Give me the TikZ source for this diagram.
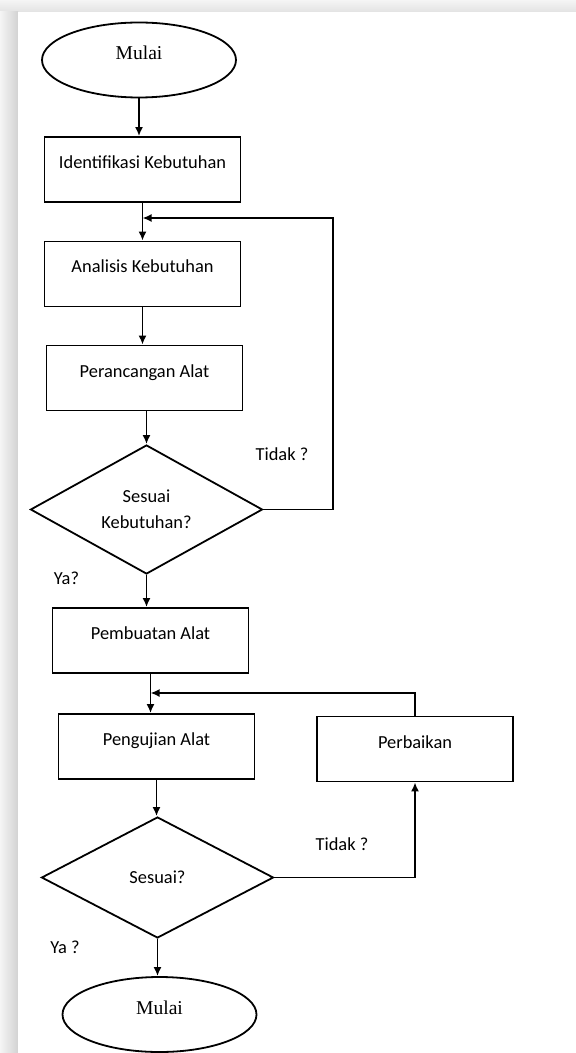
\documentclass[tikz,border=0pt]{standalone}
\usepackage{fontspec}
\setmainfont{Carlito}
\newfontfamily\serifmulai{Liberation Serif}
\usetikzlibrary{shapes.geometric,arrows.meta}
\begin{document}
\begin{tikzpicture}[x=0.5pt, y=-0.5pt, line width=0.9pt,
  font=\fontsize{9.2}{13}\selectfont,
  >={Latex[length=4.5pt,width=4pt]},
  kotak/.style={draw, rectangle, minimum width=98pt, minimum height=32.5pt, text height=6pt, text depth=7pt},
  terminal/.style={draw, ellipse, minimum width=97pt, minimum height=37.5pt, inner sep=0pt,
    font=\serifmulai\fontsize{9.8}{12}\selectfont, text height=6.5pt, text depth=7pt},
  keputusan/.style={draw, diamond, minimum width=116pt, minimum height=60.5pt, inner sep=0pt, align=center}]
\useasboundingbox (0,0) rectangle (576,1053);
\fill[top color=gray!8, bottom color=gray!22] (0,0) rectangle (576,12);
\fill[left color=gray!8, right color=gray!35] (0,12) rectangle (18,1053);
\fill[white] (18,12) rectangle (576,1053);

\node [terminal] (m1) at (139,60) {Mulai};
\node [kotak] (s1) at (142.5,169.5) {Identifikasi Kebutuhan};
\node [kotak] (s2) at (142.5,274) {Analisis Kebutuhan};
\node [kotak] (s3) at (144.5,378) {Perancangan Alat};
\node [keputusan] (d1) at (146.5,509.5) {Sesuai\\Kebutuhan?};
\node [kotak] (s4) at (150.5,640.5) {Pembuatan Alat};
\node [kotak] (s5) at (156.5,746.5) {Pengujian Alat};
\node [kotak] (p) at (415,749) {Perbaikan};
\node [keputusan] (d2) at (157.5,877.5) {Sesuai?};
\node [terminal] (m2) at (159.5,1014.5) {Mulai};

\node (t1) at (282,454) {Tidak ?};
\node (y1) at (66.5,578) {Ya?};
\node (t2) at (342,844) {Tidak ?};
\node (y2) at (65,947) {Ya ?};

\coordinate (c1) at (333,218);
\coordinate (c2) at (417,693);

\draw [->] (m1.south) -- (m1.south |- s1.north);
\draw [->] (s1.south) -- (s1.south |- s2.north);
\draw [->] (d1.east) -| (c1) -- (s1.south |- c1);
\draw [->] (s2.south) -- (s2.south |- s3.north);
\draw [->] (s3.south -| d1.north) -- (d1.north);
\draw [->] (d1.south) -- (d1.south |- s4.north);
\draw [->] (s4.south) -- (s4.south |- s5.north);
\draw [->] (p.north) |- (s4.south |- c2);
\draw [->] (s5.south) -- (s5.south |- d2.north);
\draw [->] (d2.east) -| (p.south);
\draw [->] (d2.south) -- (d2.south |- m2.north);
\end{tikzpicture}
\end{document}
